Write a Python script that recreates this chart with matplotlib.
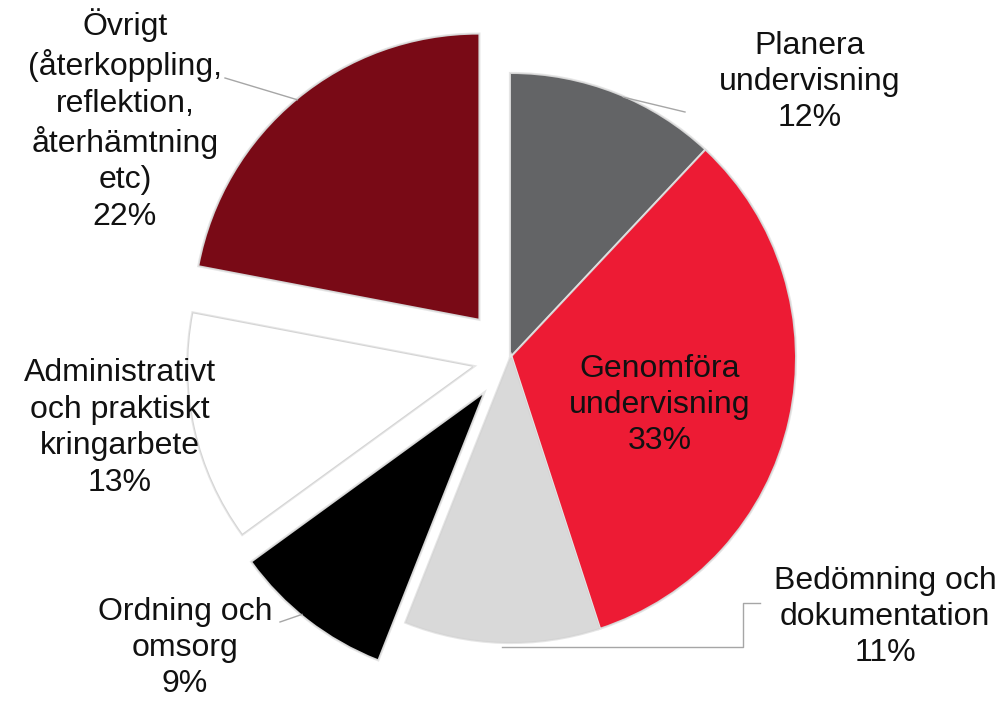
import numpy as np
import matplotlib
matplotlib.use("Agg")
import matplotlib.pyplot as plt
import matplotlib.patheffects as pe

labels = ["Planera\nundervisning", "Genomföra\nundervisning", "Bedömning och\ndokumentation",
          "Ordning och\nomsorg", "Administrativt\noch praktiskt\nkringarbete",
          "Övrigt\n(återkoppling,\nreflektion,\nåterhämtning\netc)"]
values = [12, 33, 11, 9, 13, 22]
colors = ["#636466", "#ED1B34", "#D9D9D9", "#000000", "#FFFFFF", "#790A16"]
explode = [0, 0, 0, 0.165, 0.14, 0.18]

W, H = 1004, 701
fig = plt.figure(figsize=(W / 100, H / 100), dpi=100)
ax = fig.add_axes([0, 0, 1, 1])

cx, cy, R = 511, H - 358, 284
wedges, _ = ax.pie(values, colors=colors, explode=[e * R for e in explode], startangle=90,
                   counterclock=False, radius=R, center=(cx, cy), frame=True,
                   wedgeprops=dict(linewidth=0, edgecolor="none"))
for w in wedges:
    w.set_path_effects([pe.Stroke(linewidth=3, foreground="#E6E6E6"),
                        pe.Stroke(linewidth=1.5, foreground="#D4D4D4"),
                        pe.Normal()])
ax.set_xlim(0, W)
ax.set_ylim(0, H)
ax.set_aspect("equal")
ax.axis("off")

fs = 23
txt = [f"{l}\n{v}%" for l, v in zip(labels, values)]
tpos = [(810, 82), (660, 405), (885, 617), (185, 648), (120, 428), (125, 120)]
for t, (x, y) in zip(txt, tpos):
    ax.text(x, H - y, t, ha="center", va="center", fontsize=fs, color="#111111",
            linespacing=1.28, family=["Liberation Sans", "DejaVu Sans"])

cum = np.concatenate([[0], np.cumsum(values)]) / sum(values) * 360.0

def edge_point(i, frac=0.5):
    th_cw = cum[i] + (cum[i + 1] - cum[i]) * frac
    c = wedges[i].center
    th = np.deg2rad(th_cw)
    return c[0] + R * np.sin(th), c[1] + R * np.cos(th)

lc = "#A6A6A6"
p = edge_point(0, 0.54)
ax.plot([p[0], 685], [p[1], H - 112], color=lc, lw=1)
p = edge_point(2, 0.5)
ax.plot([p[0], 743, 743, 760], [H - 647, H - 647, H - 603, H - 603], color=lc, lw=1)
p = edge_point(3, 0.55)
ax.plot([280, p[0]], [H - 622, p[1]], color=lc, lw=1)
p = edge_point(5, 0.5)
ax.plot([225, p[0]], [H - 78, p[1]], color=lc, lw=1)

fig.savefig("out.png", dpi=100)
